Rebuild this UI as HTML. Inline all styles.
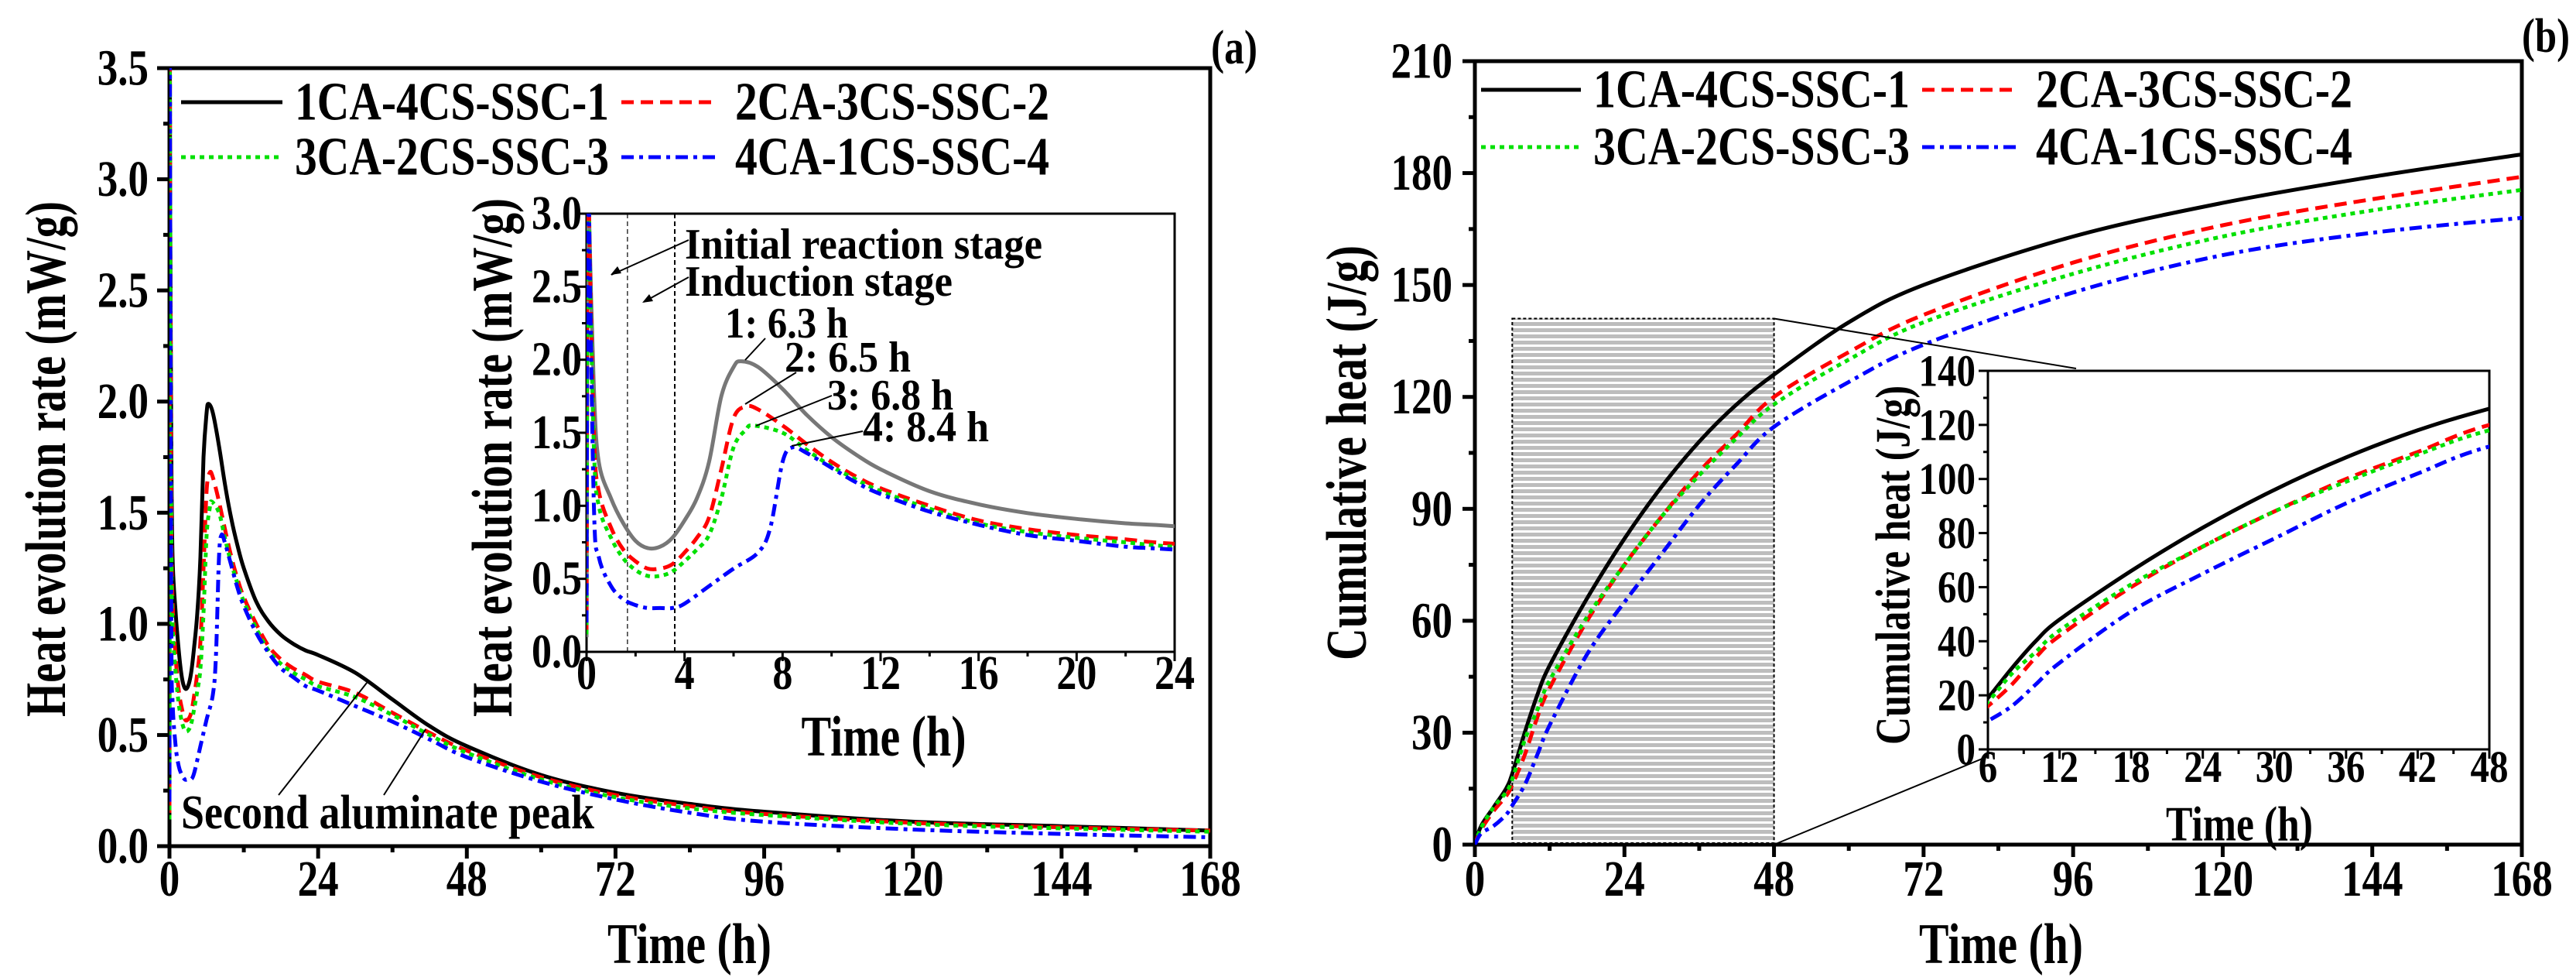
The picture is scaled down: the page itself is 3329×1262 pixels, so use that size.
<!DOCTYPE html>
<html><head><meta charset="utf-8"><style>
html,body{margin:0;padding:0;background:#fff}
svg{display:block;font-family:"Liberation Serif",serif;font-weight:bold}
</style></head><body>
<svg id="fig" width="3329" height="1262" viewBox="0 0 3329 1262" xmlns="http://www.w3.org/2000/svg">
<defs>
<pattern id="stripes" width="10" height="8" patternUnits="userSpaceOnUse">
<rect x="0" y="0" width="10" height="5" fill="#bdbdbd"/>
</pattern>
<clipPath id="clipA"><rect x="219" y="88" width="1345" height="1005"/></clipPath>
<clipPath id="clipAi"><rect x="758" y="276" width="760" height="566"/></clipPath>
<clipPath id="clipB"><rect x="1906" y="79" width="1353" height="1012"/></clipPath>
<clipPath id="clipBi"><rect x="2569" y="479" width="648" height="489"/></clipPath>
</defs>
<g id="root"></g>
</svg>
<script>
// ---- data: heat evolution rate (mW/g) ----
const rateT1 = [0,0.05,0.1,0.3,0.5,1,1.5,2,2.5,3,3.5,4,4.5,5,5.5,6,6.3,7,8,9,10,11,12,14,16,18,20,22,24,30,36,42,48,60,72,84,96,120,144,168];
const rateV1 = [0.1,3.6,3.0,1.8,1.3,1.05,0.88,0.76,0.71,0.72,0.78,0.9,1.05,1.3,1.75,1.95,1.99,1.95,1.8,1.62,1.47,1.35,1.25,1.10,1.01,0.95,0.91,0.88,0.86,0.78,0.66,0.54,0.45,0.32,0.24,0.19,0.155,0.11,0.09,0.07];
const rateT2 = [0,0.05,0.1,0.3,0.5,1,1.5,2,2.5,3,3.5,4,4.5,5,5.5,6,6.5,7,8,9,10,11,12,14,16,18,20,22,24,30,36,42,48,60,72,84,96,120,144,168];
const rateV2 = [0.15,3.6,3.0,1.5,1.1,0.85,0.7,0.62,0.57,0.57,0.6,0.68,0.78,0.92,1.25,1.6,1.68,1.66,1.55,1.42,1.3,1.2,1.12,1.0,0.9,0.84,0.8,0.77,0.74,0.69,0.6,0.51,0.43,0.31,0.23,0.18,0.145,0.105,0.085,0.07];
const rateT3 = [0,0.05,0.1,0.3,0.5,1,1.5,2,2.5,3,3.5,4,4.5,5,5.5,6,6.5,6.8,8,9,10,11,12,14,16,18,20,22,24,30,36,42,48,60,72,84,96,120,144,168];
const rateV3 = [0.12,3.6,3.0,1.4,1.0,0.78,0.64,0.56,0.52,0.52,0.55,0.62,0.7,0.8,1.05,1.4,1.52,1.55,1.5,1.38,1.27,1.18,1.1,0.98,0.88,0.82,0.78,0.75,0.72,0.67,0.59,0.5,0.42,0.3,0.22,0.17,0.14,0.1,0.08,0.065];
const rateT4 = [0,0.05,0.1,0.3,0.5,1,1.5,2,2.5,3,3.5,4,5,6,7,7.5,8,8.4,9,10,11,12,14,16,18,20,22,24,30,36,42,48,60,72,84,96,120,144,168];
const rateV4 = [0.2,3.6,3.0,1.0,0.65,0.45,0.36,0.32,0.3,0.3,0.3,0.33,0.45,0.57,0.68,0.85,1.3,1.4,1.36,1.26,1.16,1.08,0.96,0.87,0.8,0.76,0.72,0.70,0.63,0.56,0.48,0.40,0.29,0.21,0.15,0.11,0.075,0.055,0.04];
// ---- data: cumulative heat (J/g) ----
const cumT = [0,1,3,5,6,8,10,12,18,24,30,36,42,48,60,72,96,120,144,168];
const cumV1 = [0,5,10,15,19,30,40,48,66,82,96,108,118,126,140,150,163,172,179,185];
const cumV2 = [0,4,9,13,16,24,34,42,60,75,88,100,110,120,132,142,156,166,173,179];
const cumV3 = [0,4.5,10,14,17.5,28,36,44,61,75,88,99,109,118,130,140,153,163,170,175.5];
const cumV4 = [0,3,5,8,10.5,16,24,32,51,65,78,91,102,112,124,134,148,158,164,168];
// ---- ticks ----
const mainXTicks = [0,24,48,72,96,120,144,168];
const rateYTicks = [0,0.5,1.0,1.5,2.0,2.5,3.0,3.5];
const insetAXTicks = [0,4,8,12,16,20,24];
const insetAYTicks = [0,0.5,1.0,1.5,2.0,2.5,3.0];
const cumYTicks = [0,30,60,90,120,150,180,210];
const insetBXTicks = [6,12,18,24,30,36,42,48];
const insetBYTicks = [0,20,40,60,80,100,120,140];
const seriesNames = ["1CA-4CS-SSC-1","2CA-3CS-SSC-2","3CA-2CS-SSC-3","4CA-1CS-SSC-4"];

const NS="http://www.w3.org/2000/svg";
const root=document.getElementById('root');
function mk(tag,attrs,parent){const e=document.createElementNS(NS,tag);for(const k in attrs)e.setAttribute(k,attrs[k]);(parent||root).appendChild(e);return e;}
function txt(s,attrs,parent){const e=mk('text',attrs,parent);e.textContent=s;return e;}
function scale(d0,d1,r0,r1){return v=>r0+(v-d0)/(d1-d0)*(r1-r0);}
function tlen(s,dw){let w=0;for(const c of s)w+=(c==='.')?dw*0.5:dw;return w;}
const styles=[
 {stroke:"#000",dash:"none"},
 {stroke:"#ff0000",dash:"16 9"},
 {stroke:"#00e000",dash:"6 6"},
 {stroke:"#0000ff",dash:"16 7 5 7"}];

function axes(o){
  const g=mk('g',{});
  
  
  mk('rect',{x:o.x0,y:o.y1,width:o.x1-o.x0,height:o.y0-o.y1,fill:'none',stroke:'#000','stroke-width':o.sw},g);
  const sx=scale(o.xd[0],o.xd[1],o.x0,o.x1), sy=scale(o.yd[0],o.yd[1],o.y0,o.y1);
  o.xt.forEach((v,i)=>{
    const x=sx(v);
    mk('line',{x1:x,y1:o.y0,x2:x,y2:o.y0+o.tl,stroke:'#000','stroke-width':o.sw},g);
    const s=String(v);
    const t=txt(s,{x:x,y:o.xly,'text-anchor':'middle','font-size':o.fs,textLength:tlen(s,o.dw),lengthAdjust:'spacingAndGlyphs'},g);
    
    
    if(i<o.xt.length-1){const xm=sx((v+o.xt[i+1])/2);mk('line',{x1:xm,y1:o.y0,x2:xm,y2:o.y0+o.tl/2,stroke:'#000','stroke-width':o.sw},g);}
  });
  o.yt.forEach((v,i)=>{
    const y=sy(v);
    mk('line',{x1:o.x0,y1:y,x2:o.x0-o.tl,y2:y,stroke:'#000','stroke-width':o.sw},g);
    const s=o.yf(v);
    const t=txt(s,{x:o.ylx,y:y,'text-anchor':'end','dominant-baseline':'central','font-size':o.fs,textLength:tlen(s,o.dw),lengthAdjust:'spacingAndGlyphs'},g);
    
    
    if(i<o.yt.length-1){const ym=sy((v+o.yt[i+1])/2);mk('line',{x1:o.x0,y1:ym,x2:o.x0-o.tl/2,y2:ym,stroke:'#000','stroke-width':o.sw},g);}
  });
  return {sx,sy};
}
function smoothPath(P){
  let d='M'+P[0][0].toFixed(1)+','+P[0][1].toFixed(1);
  for(let i=0;i<P.length-1;i++){
    const p0=P[i-1]||P[i],p1=P[i],p2=P[i+1],p3=P[i+2]||P[i+1];
    const c1=[p1[0]+(p2[0]-p0[0])/6,p1[1]+(p2[1]-p0[1])/6];
    const c2=[p2[0]-(p3[0]-p1[0])/6,p2[1]-(p3[1]-p1[1])/6];
    d+=` C${c1[0].toFixed(1)},${c1[1].toFixed(1)} ${c2[0].toFixed(1)},${c2[1].toFixed(1)} ${p2[0].toFixed(1)},${p2[1].toFixed(1)}`;
  }
  return d;
}
function series(T,V,sx,sy,k,clip,w,name,grey){
  const P=T.map((t,i)=>[sx(t),sy(V[i])]);
  const p=mk('path',{d:smoothPath(P),fill:'none',stroke:grey&&k==0?'#777':styles[k].stroke,'stroke-width':w,'stroke-dasharray':styles[k].dash,'clip-path':'url(#'+clip+')','stroke-linejoin':'round'});
  
  
}
function vtitle(s,cx,cy,fs,len,name){
  const t=txt(s,{x:0,y:0,transform:`translate(${cx},${cy}) rotate(-90)`,'text-anchor':'middle','dominant-baseline':'central','font-size':fs,textLength:len,lengthAdjust:'spacingAndGlyphs'});
  
  
}
function htext(s,x,y,fs,len,name,anchor){
  const t=txt(s,{x:x,y:y,'text-anchor':anchor||'middle','dominant-baseline':'central','font-size':fs,textLength:len,lengthAdjust:'spacingAndGlyphs'});
  
  
}
function ln(x1,y1,x2,y2,w,name,dash){
  const l=mk('line',{x1,y1,x2,y2,stroke:'#000','stroke-width':w,'stroke-dasharray':dash||'none'});
  
  
}
const f1=v=>v.toFixed(1);
const f0=v=>String(v);
const rateT=[rateT1,rateT2,rateT3,rateT4], rateV=[rateV1,rateV2,rateV3,rateV4];
const cumVs=[cumV1,cumV2,cumV3,cumV4];

// ===== Panel A =====
const A=axes({name:'panel-a-axes',x0:219,x1:1564,y0:1093,y1:88,xd:[0,168],yd:[0,3.5],xt:mainXTicks,yt:rateYTicks,yf:f1,tl:16,sw:5,fs:66,dw:26.5,xly:1157,ylx:192});
for(let k=0;k<4;k++) series(rateT[k],rateV[k],A.sx,A.sy,k,'clipA',5,'rate-line-'+(k+1));
vtitle('Heat evolution rate (mW/g)',60,593,74,666,'y-axis-title-a');
htext('Time (h)',891,1220,74,212,'x-axis-title-a');
htext('(a)',1595,62,62,60,'panel-label-a');
// legend A
const legA=[[234,365,381,132],[803,926,950,132],[234,365,381,203],[803,926,950,203]];
legA.forEach((p,k)=>{
  const l=mk('line',{x1:p[0],y1:p[3],x2:p[1],y2:p[3],stroke:styles[k].stroke,'stroke-width':5,'stroke-dasharray':styles[k].dash});
  
  
  htext(seriesNames[k],p[2],p[3],70,406,'legend-entry-a-'+(k+1),'start');
});
htext('Second aluminate peak',501,1050,62,534,'annotation-second-peak');
ln(360,1027,474,882,2,'leader-line-1');
ln(496,1027,550,942,2,'leader-line-2');

// inset A
mk('rect',{x:758,y:276,width:760,height:566,fill:'#fff'});
const AI=axes({name:'inset-a-axes',x0:758,x1:1518,y0:842,y1:276,xd:[0,24],yd:[0,3.0],xt:insetAXTicks,yt:insetAYTicks,yf:f1,tl:12,sw:3,fs:62,dw:26,xly:890,ylx:752});
ln(AI.sx(1.67),276,AI.sx(1.67),842,1.2,'initial-stage-boundary','6 4');
ln(AI.sx(3.6),276,AI.sx(3.6),842,2,'induction-stage-boundary','6 4');
for(let k=0;k<4;k++) series(rateT[k],rateV[k],AI.sx,AI.sy,k,'clipAi',5,'inset-rate-line-'+(k+1),true);
vtitle('Heat evolution rate (mW/g)',637,591,74,670,'y-axis-title-inset-a');
htext('Time (h)',1142,952,74,213,'x-axis-title-inset-a');
htext('Initial reaction stage',885,316,56,462,'annotation-initial-stage','start');
htext('Induction stage',885,364,56,346,'annotation-induction-stage','start');
ln(890,310,790,355,2,'arrow-initial');
mk('path',{d:'M789,355 l14,-2 l-5,-9 z',fill:'#000'});
ln(890,358,832,390,2,'arrow-induction');
mk('path',{d:'M830,391 l14,-2 l-5,-9 z',fill:'#000'});
htext('1: 6.3 h',937,418,56,159,'peak-label-1','start');
htext('2: 6.5 h',1014,462,56,163,'peak-label-2','start');
htext('3: 6.8 h',1069,511,56,163,'peak-label-3','start');
htext('4: 8.4 h',1115,552,56,163,'peak-label-4','start');
ln(989,437,963,465,2,'peak-leader-1');
ln(1029,481,963,522,2,'peak-leader-2');
ln(1075,511,977,550,2,'peak-leader-3');
ln(1115,557,1023,576,2,'peak-leader-4');

// ===== Panel B =====
const B=axes({name:'panel-b-axes',x0:1906,x1:3259,y0:1091,y1:79,xd:[0,168],yd:[0,210],xt:mainXTicks,yt:cumYTicks,yf:f0,tl:16,sw:5,fs:66,dw:26.5,xly:1157,ylx:1877});
const rx0=B.sx(6), rx1=B.sx(48), ry=B.sy(141);
const shade=mk('rect',{x:rx0,y:ry,width:rx1-rx0,height:1089-ry,fill:'url(#stripes)',stroke:'#000','stroke-width':2,'stroke-dasharray':'4 3'});


for(let k=0;k<4;k++) series(cumT,cumVs[k],B.sx,B.sy,k,'clipB',5,'cum-line-'+(k+1));
vtitle('Cumulative heat (J/g)',1741,585,74,536,'y-axis-title-b');
htext('Time (h)',2586,1220,74,212,'x-axis-title-b');
htext('(b)',3290,47,62,62,'panel-label-b');
const legB=[[1914,2043,2059,116],[2484,2608,2631,116],[1914,2043,2059,190],[2484,2608,2631,190]];
legB.forEach((p,k)=>{
  const l=mk('line',{x1:p[0],y1:p[3],x2:p[1],y2:p[3],stroke:styles[k].stroke,'stroke-width':5,'stroke-dasharray':styles[k].dash});
  
  
  htext(seriesNames[k],p[2],p[3],70,409,'legend-entry-b-'+(k+1),'start');
});
ln(rx1,ry,2683,476,2,'zoom-connector-top');
ln(rx1,1091,2569,977,2,'zoom-connector-bottom');
// inset B
mk('rect',{x:2569,y:479,width:648,height:489,fill:'#fff'});
const BI=axes({name:'inset-b-axes',x0:2569,x1:3217,y0:968,y1:479,xd:[6,48],yd:[0,140],xt:insetBXTicks,yt:insetBYTicks,yf:f0,tl:12,sw:3,fs:58,dw:24.5,xly:1010,ylx:2553});
for(let k=0;k<4;k++) series(cumT,cumVs[k],BI.sx,BI.sy,k,'clipBi',5,'inset-cum-line-'+(k+1));
vtitle('Cumulative heat (J/g)',2446,730,64,464,'y-axis-title-inset-b');
htext('Time (h)',2894,1064,64,190,'x-axis-title-inset-b');
</script>
</body></html>
